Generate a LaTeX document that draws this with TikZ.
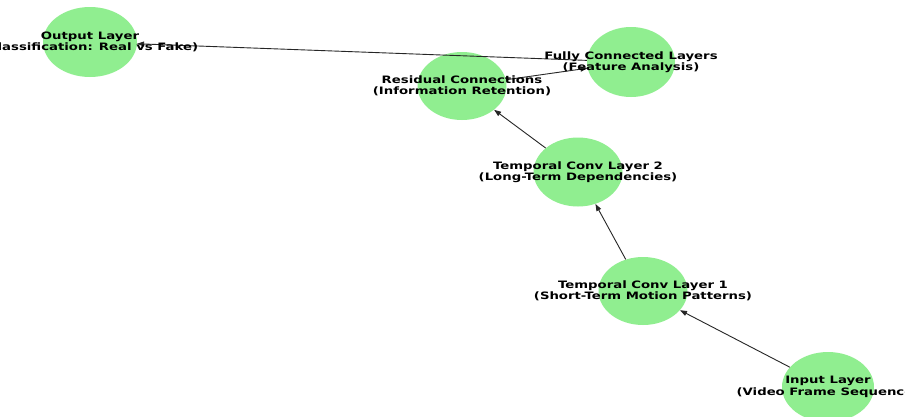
\documentclass[tikz,border=0pt]{standalone}
\usepackage{fontspec}
\newfontfamily\lblfont[FakeStretch=1.3]{DejaVu Sans Bold}
\usetikzlibrary{shapes.geometric,arrows.meta}
\definecolor{nodegreen}{HTML}{90EE90}
\tikzset{
  layer/.style={ellipse, fill=nodegreen, draw=none, inner sep=0pt},
  lbl/.style={align=center, inner sep=0pt, text=black,
    font=\lblfont\fontsize{10.2pt}{11.5pt}\selectfont},
  flow/.style={draw=black!85, line width=0.9pt,
    -{Triangle[length=7pt,width=5pt]}}
}
\begin{document}
\begin{tikzpicture}[x=1pt,y=-1pt]
  \useasboundingbox (0,0) rectangle (905,416);
  \clip (0,0) rectangle (905,416);
  \fill[white] (0,0) rectangle (905,416);

  % layers of the network
  \node[layer, minimum width=94pt, minimum height=70pt] (out) at (90,42) {};
  \node[layer, minimum width=88pt, minimum height=70pt] (fc)  at (631,62) {};
  \node[layer, minimum width=89pt, minimum height=68pt] (res) at (462,86) {};
  \node[layer, minimum width=89pt, minimum height=69pt] (t2)  at (578,172) {};
  \node[layer, minimum width=89pt, minimum height=68pt] (t1)  at (643,291) {};
  \node[layer, minimum width=92pt, minimum height=70pt] (inp) at (828,387) {};

  % data flow between layers
  \draw[flow] (inp) -- (t1);
  \draw[flow] (t1) -- (t2);
  \draw[flow] (t2) -- (res);
  \draw[flow] (res) -- (fc);
  \draw[flow] (fc) -- (out);

  % layer captions
  \node[lbl] (out-t) at (out) {Output Layer\\(Classification: Real vs Fake)};
  \node[lbl] (fc-t)  at (fc)  {Fully Connected Layers\\(Feature Analysis)};
  \node[lbl] (res-t) at (res) {Residual Connections\\(Information Retention)};
  \node[lbl] (t2-t)  at (t2)  {Temporal Conv Layer 2\\(Long-Term Dependencies)};
  \node[lbl] (t1-t)  at (t1)  {Temporal Conv Layer 1\\(Short-Term Motion Patterns)};
  \node[lbl] (inp-t) at (inp) {Input Layer\\(Video Frame Sequence)};
\end{tikzpicture}
\end{document}
